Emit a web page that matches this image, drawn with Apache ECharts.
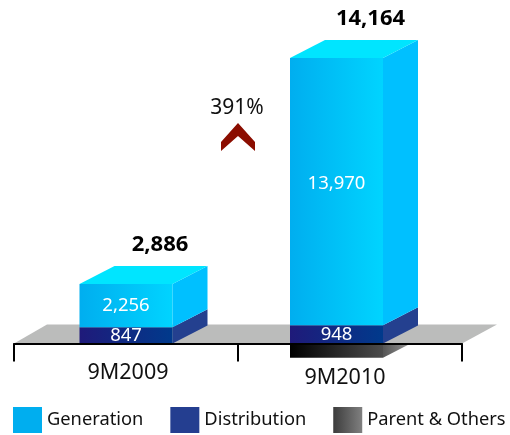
<!DOCTYPE html>
<html>
<head>
<meta charset="utf-8">
<style>
  html, body { margin: 0; padding: 0; background: #fff; }
  #chart { width: 510px; height: 435px; }
</style>
</head>
<body>
<div id="chart"></div>
<script src="https://cdn.jsdelivr.net/npm/echarts@6/dist/echarts.min.js"></script>
<script>
const categories = ['9M2009', '9M2010']
const generation = [2256, 13970]
const distribution = [847, 948]
const parentOthers = [0, -754]
const totals = [2886, 14164]
const growthLabel = '391%'

const FONT = '"Noto Sans", sans-serif'
const BAR_W = 93
const DEPTH_X = 35
const DEPTH_Y = 18
// the second column sits left of the middle of its band in the original
const barShift = [0, -13.5]
const genLabelShift = [0, -8]

const linear = (a, b) => ({
  type: 'linear', x: 0, y: 0, x2: 1, y2: 0,
  colorStops: [{ offset: 0, color: a }, { offset: 1, color: b }]
})

const polygon = (points, fill, z2) => ({
  type: 'polygon',
  shape: { points },
  style: { fill },
  z2: z2 || 0
})

const label = (text, x, y, fill, weight, size) => ({
  type: 'text',
  z2: 20,
  style: {
    text, x, y, fill,
    font: `${weight} ${size}px ${FONT}`,
    align: 'center',
    verticalAlign: 'middle'
  }
})

// one block of a column: front face, side face, and top face if asked
const boxRenderer = (faces) => (params, api) => {
  const i = api.value(0)
  const cx = api.coord([i, 0])[0] + barShift[i]
  const yA = api.coord([i, api.value(1)])[1]
  const yB = api.coord([i, api.value(2)])[1]
  if (Math.abs(yA - yB) < 0.5) return { type: 'group', children: [] }
  const top = Math.min(yA, yB)
  const bottom = Math.max(yA, yB)
  const l = cx - BAR_W / 2
  const r = cx + BAR_W / 2
  const children = [
    polygon([[r, top], [r + DEPTH_X, top - DEPTH_Y], [r + DEPTH_X, bottom - DEPTH_Y], [r, bottom]], faces.side),
    polygon([[l, top], [r, top], [r, bottom], [l, bottom]], faces.front, 1)
  ]
  if (faces.top) {
    children.push(polygon([[l, top], [l + DEPTH_X, top - DEPTH_Y], [r + DEPTH_X, top - DEPTH_Y], [r, top]], faces.top))
  }
  if (faces.text) {
    const shift = faces.textShift ? faces.textShift[i] : 0
    const text = faces.text[i].toLocaleString('en-US')
    children.push(label(text, cx, (top + bottom) / 2 + shift, '#fff', 400, 18.5))
  }
  return { type: 'group', children }
}

const renderPlane = (params, api) => {
  const y0 = api.coord([0, 0])[1]
  const { x, width } = params.coordSys
  return polygon([
    [x, y0], [x + 33, y0 - 19], [x + width + 35, y0 - 19], [x + width, y0]
  ], '#bbbcbb')
}

const renderTotal = (params, api) => {
  const i = api.value(0)
  const cx = api.coord([i, 0])[0] + barShift[i] + DEPTH_X - 1
  const y = api.coord([i, generation[i] + distribution[i]])[1]
  return label(totals[i].toLocaleString('en-US'), cx, y - DEPTH_Y - 21, '#000', 700, 22)
}

const stackData = (values, base) => values.map((v, i) => [i, base[i], base[i] + v])
const zeros = categories.map(() => 0)

const genFront = linear('#00aeef', '#00d4ff')
const distFront = linear('#1f1a7a', '#003a8c')
const parentFront = linear('#000000', '#4c4c4c')

const boxSeries = (name, values, base, faces, legendColor, z) => ({
  name,
  type: 'custom',
  coordinateSystem: 'cartesian2d',
  renderItem: boxRenderer(faces),
  encode: { x: 0, y: [1, 2] },
  itemStyle: { color: legendColor },
  data: stackData(values, base),
  silent: true,
  z
})

const chart = echarts.init(document.getElementById('chart'), null, { renderer: 'canvas' })

chart.setOption({
  animation: false,
  backgroundColor: '#fff',
  grid: { left: 14, top: 56.5, width: 448, height: 306 },
  xAxis: {
    type: 'category',
    data: categories,
    z: 8,
    axisLine: { onZero: true, lineStyle: { color: '#000', width: 2 } },
    axisTick: { show: true, length: 18, lineStyle: { color: '#000', width: 2 } },
    axisLabel: {
      margin: -1,
      interval: 0,
      formatter: (v, i) => (i === 0 ? `{a|${v}}` : `{b|${v}}`),
      rich: {
        a: { color: '#111', fontFamily: FONT, fontSize: 21.5, padding: [0, 0, 0, 4] },
        b: { color: '#111', fontFamily: FONT, fontSize: 21.5, padding: [5, 10, 0, 0] }
      }
    }
  },
  yAxis: { type: 'value', min: -1000, max: 15000, show: false },
  legend: {
    data: ['Generation', 'Distribution', 'Parent & Others'],
    left: 13,
    top: 407,
    padding: 0,
    itemWidth: 29,
    itemHeight: 26,
    itemGap: 27,
    icon: 'rect',
    selectedMode: false,
    textStyle: { color: '#111', fontFamily: FONT, fontSize: 18.3 }
  },
  graphic: [
    {
      type: 'text',
      style: {
        text: growthLabel, x: 237, y: 108, fill: '#111',
        font: `400 21px ${FONT}`, align: 'center', verticalAlign: 'middle'
      }
    },
    {
      type: 'polygon',
      shape: { points: [[221, 142], [238, 123], [255, 142], [255, 151], [238, 136], [221, 151]] },
      style: { fill: '#8b0d00' }
    }
  ],
  series: [
    boxSeries('Parent & Others', parentOthers, zeros, { front: parentFront, side: linear('#555555', '#aaaaaa') }, linear('#3c3c3c', '#808080'), 1),
    {
      type: 'custom',
      renderItem: renderPlane,
      encode: { x: 0, y: 1 },
      data: [[0, 0]],
      silent: true,
      z: 2
    },
    boxSeries('Distribution', distribution, zeros, { front: distFront, side: '#24408f', text: distribution }, '#243e90', 3),
    boxSeries('Generation', generation, distribution, {
      front: genFront, side: '#00c0ff', top: '#00e5ff', text: generation, textShift: genLabelShift
    }, '#00aeef', 3),
    {
      type: 'custom',
      renderItem: renderTotal,
      encode: { x: 0, y: 1 },
      data: categories.map((c, i) => [i, totals[i]]),
      silent: true,
      z: 4
    }
  ]
})

window.addEventListener('resize', () => chart.resize())
</script>
</body>
</html>
